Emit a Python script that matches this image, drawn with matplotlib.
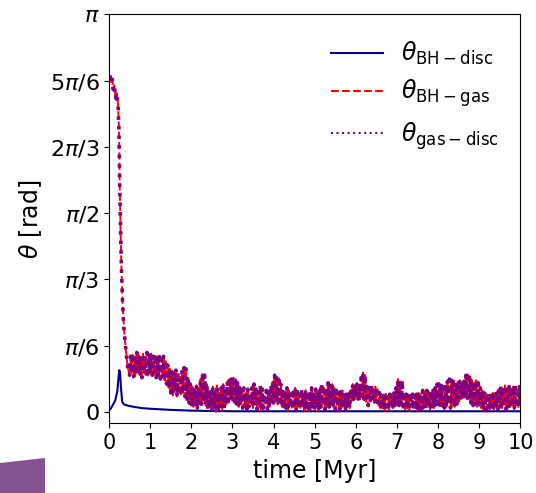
"""Misalignment angles between BH spin, gas and disc over time."""

import matplotlib

matplotlib.use("Agg")
import matplotlib.pyplot as plt  # noqa: E402
import numpy as np  # noqa: E402
from matplotlib.patches import Polygon  # noqa: E402

# BH - disc angle (rad)
t_bh_disc = [0.00, 0.05, 0.10, 0.15, 0.20, 0.23, 0.25, 0.27, 0.29, 0.32, 0.36,
             0.45, 0.60, 0.80, 1.00, 1.50, 2.00, 2.50, 3.00, 4.00, 5.00, 6.00,
             7.00, 8.00, 9.00, 10.00]
theta_bh_disc = [0.01, 0.03, 0.06, 0.09, 0.16, 0.27, 0.33, 0.30, 0.19, 0.08, 0.06,
                 0.05, 0.04, 0.03, 0.025, 0.016, 0.010, 0.007, 0.005, 0.005, 0.005,
                 0.005, 0.005, 0.005, 0.005, 0.005]

# BH - gas angle: initial fall, then a noisy tail sampled every 0.025 Myr
t_gas_early = [0.02, 0.05, 0.08, 0.10, 0.13, 0.16, 0.19, 0.22, 0.24, 0.26, 0.28,
               0.30, 0.33, 0.36, 0.40, 0.45]
theta_gas_early = [2.66, 2.60, 2.63, 2.55, 2.58, 2.48, 2.52, 2.42, 2.25, 1.80, 1.45,
                   1.15, 0.86, 0.67, 0.52, 0.36]
theta_gas_tail = [
    0.29, 0.44, 0.31, 0.46, 0.28, 0.43, 0.30, 0.47, 0.32, 0.45, 0.29, 0.44, 0.27, 0.46, 0.31, 0.43, 0.30, 0.47, 0.28, 0.45,
    0.31, 0.46, 0.29, 0.44, 0.30, 0.45, 0.27, 0.43, 0.29, 0.46, 0.26, 0.42, 0.28, 0.44, 0.25, 0.40, 0.22, 0.37, 0.19, 0.34,
    0.15, 0.32, 0.13, 0.30, 0.16, 0.33, 0.12, 0.31, 0.14, 0.29, 0.13, 0.32, 0.15, 0.35, 0.12, 0.34, 0.10, 0.27, 0.07, 0.22,
    0.05, 0.20, 0.04, 0.18, 0.06, 0.21, 0.03, 0.19, 0.07, 0.26, 0.06, 0.31, 0.08, 0.29, 0.05, 0.22, 0.02, 0.18, 0.04, 0.16,
    0.01, 0.20, 0.03, 0.17, 0.00, 0.21, 0.02, 0.15, 0.04, 0.19, 0.01, 0.22, 0.03, 0.18, 0.06, 0.24, 0.08, 0.27, 0.09, 0.26,
    0.10, 0.27, 0.08, 0.25, 0.05, 0.23, 0.04, 0.20, 0.06, 0.17, 0.03, 0.19, 0.05, 0.15, 0.02, 0.18, 0.04, 0.14, 0.06, 0.20,
    0.03, 0.22, 0.05, 0.18, 0.02, 0.16, 0.04, 0.21, 0.01, 0.19, 0.03, 0.14, 0.05, 0.17, 0.02, 0.15, 0.04, 0.20, 0.06, 0.24,
    0.07, 0.29, 0.09, 0.27, 0.06, 0.28, 0.08, 0.22, 0.04, 0.18, 0.02, 0.16, 0.03, 0.19, 0.01, 0.17, 0.04, 0.15, 0.02, 0.18,
    0.03, 0.19, 0.01, 0.16, 0.04, 0.14, 0.02, 0.18, 0.05, 0.15, 0.01, 0.17, 0.03, 0.13, 0.00, 0.16, 0.02, 0.19, 0.04, 0.14,
    0.02, 0.18, 0.04, 0.16, 0.01, 0.19, 0.03, 0.22, 0.05, 0.20, 0.02, 0.17, 0.04, 0.23, 0.03, 0.21, 0.06, 0.22, 0.04, 0.19,
    0.02, 0.17, 0.04, 0.15, 0.01, 0.16, 0.03, 0.17, 0.05, 0.14, 0.02, 0.16, 0.04, 0.15, 0.03, 0.18, 0.09, 0.22, 0.10, 0.21,
    0.11, 0.22, 0.09, 0.20, 0.10, 0.27, 0.12, 0.31, 0.10, 0.29, 0.08, 0.20, 0.05, 0.19, 0.09, 0.21, 0.10, 0.18, 0.07, 0.20,
    0.08, 0.19, 0.04, 0.15, 0.02, 0.14, 0.03, 0.13, 0.01, 0.15, 0.04, 0.12, 0.02, 0.14, 0.06, 0.13, 0.03, 0.15, 0.05, 0.19,
    0.06, 0.26, 0.05, 0.24, 0.07, 0.25, 0.04, 0.16, 0.02, 0.14, 0.03, 0.13, 0.01, 0.15, 0.04, 0.14, 0.02, 0.13, 0.03, 0.14,
    0.01, 0.15, 0.03, 0.14, 0.02, 0.17, 0.04, 0.16, 0.03, 0.17, 0.05, 0.15, 0.02, 0.16, 0.04, 0.17, 0.03, 0.19, 0.05, 0.22,
    0.06, 0.23, 0.04, 0.21, 0.05, 0.22, 0.03, 0.20, 0.04, 0.24, 0.06, 0.26, 0.03, 0.25, 0.05, 0.26, 0.04, 0.23, 0.06, 0.24,
    0.08, 0.25, 0.10, 0.24, 0.11, 0.25, 0.12, 0.29, 0.10, 0.31, 0.11, 0.28, 0.07, 0.25, 0.05, 0.24, 0.06, 0.25, 0.04, 0.23,
    0.05, 0.20, 0.03, 0.17, 0.02, 0.15, 0.01, 0.14, 0.03, 0.15, 0.02, 0.13, 0.04, 0.15, 0.01, 0.14, 0.03, 0.16, 0.02, 0.18,
    0.04, 0.20, 0.03, 0.19, 0.05, 0.21, 0.02, 0.18, 0.04, 0.20, 0.03, 0.19, 0.05, 0.20, 0.02, 0.21, 0.04, 0.19, 0.03, 0.20,
    0.05,
]
t_gas_tail = np.linspace(0.50, 10.0, len(theta_gas_tail))

t_gas = np.concatenate([t_gas_early, t_gas_tail])
theta_bh_gas = np.concatenate([theta_gas_early, theta_gas_tail])
theta_gas_disc = theta_bh_gas  # disc ~ BH once aligned, curves overlap

ytick_vals = [0, np.pi / 6, np.pi / 3, np.pi / 2, 2 * np.pi / 3, 5 * np.pi / 6, np.pi]
ytick_labels = ["0", r"$\pi/6$", r"$\pi/3$", r"$\pi/2$", r"$2\pi/3$", r"$5\pi/6$", r"$\pi$"]

fig = plt.figure(figsize=(5.36, 4.93), dpi=100)
ax = fig.add_axes([0.2034, 0.1414, 0.7676, 0.8292])

ax.plot(t_bh_disc, theta_bh_disc, color="darkblue", lw=1.5,
        label=r"$\theta_{\rm BH-disc}$")
ax.plot(t_gas, theta_bh_gas, color="red", lw=1.4, ls="--",
        label=r"$\theta_{\rm BH-gas}$")
ax.plot(t_gas, theta_gas_disc, color="purple", lw=2.6, ls=":",
        label=r"$\theta_{\rm gas-disc}$")

ax.set_xlim(0, 10)
ax.set_ylim(-0.09, np.pi)
ax.set_xticks(range(11))
ax.set_yticks(ytick_vals)
ax.set_yticklabels(ytick_labels)
ax.tick_params(axis="x", labelsize=15)
ax.tick_params(axis="y", labelsize=16)
ax.set_xlabel("time [Myr]", fontsize=17)
ax.set_ylabel(r"$\theta$ [rad]", fontsize=17)
leg = ax.legend(loc="upper right", bbox_to_anchor=(1, 0.99), frameon=False,
                fontsize=17, handlelength=2.2, labelspacing=0.45)
for line in leg.get_lines():
    line.set_linewidth(1.5)

# slide decoration in the lower-left corner
fig.patches.append(Polygon([[0, 0], [0, 30 / 493], [45 / 536, 35 / 493], [45 / 536, 0]],
                           closed=True, transform=fig.transFigure,
                           facecolor="#84528f", edgecolor="none"))

fig.savefig("out.png", dpi=100)
plt.close(fig)
